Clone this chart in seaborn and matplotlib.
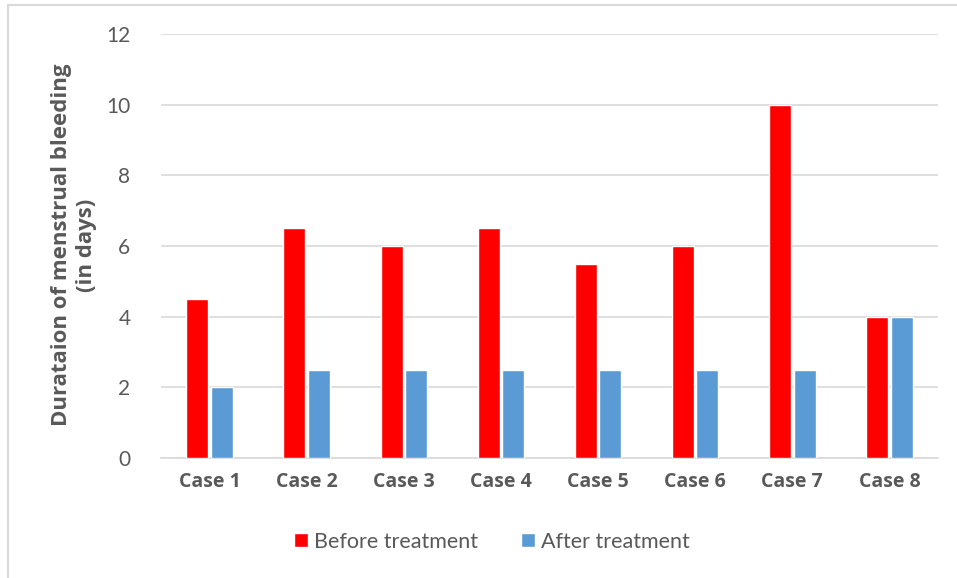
import matplotlib
matplotlib.use("Agg")
import matplotlib.pyplot as plt
import seaborn as sns
import pandas as pd
from matplotlib.patches import Rectangle

cases = ["Case 1", "Case 2", "Case 3", "Case 4", "Case 5", "Case 6", "Case 7", "Case 8"]
before = [4.5, 6.5, 6.0, 6.5, 5.5, 6.0, 10.0, 4.0]
after = [2.0, 2.5, 2.5, 2.5, 2.5, 2.5, 2.5, 4.0]
series_names = ["Before treatment", "After treatment"]
yticks = [0, 2, 4, 6, 8, 10, 12]
ylabel_text = "Durataion of menstrual bleeding\n(in days)"

df = pd.DataFrame({
    "case": cases * 2,
    "days": before + after,
    "series": [series_names[0]] * len(cases) + [series_names[1]] * len(cases),
})

sns.set_theme(style="white")
plt.rcParams["font.family"] = ["Lato", "DejaVu Sans"]
BOLD_FONT = ["Open Sans", "DejaVu Sans"]
TEXT_GRAY = "#595959"

fig = plt.figure(figsize=(9.57, 5.78), dpi=100)
ax = fig.add_axes([161 / 957, 1 - 458 / 578, (938 - 161) / 957, (458 - 34) / 578])

palette = {series_names[0]: "#ff0000", series_names[1]: "#5b9bd5"}
sns.barplot(data=df, x="case", y="days", hue="series", palette=palette,
            width=0.505, gap=0.1, ax=ax, saturation=1, errorbar=None, zorder=3)

ax.set_ylim(0, 12)
ax.set_xlim(-0.5, len(cases) - 0.5)
ax.set_yticks(yticks)
ax.set_yticklabels([str(t) for t in yticks], color=TEXT_GRAY, fontsize=15)
ax.tick_params(axis="y", length=0, pad=22)
ax.tick_params(axis="x", length=0, pad=10)
for lbl in ax.get_xticklabels():
    lbl.set_family(BOLD_FONT)
    lbl.set_fontweight("bold")
    lbl.set_color(TEXT_GRAY)
    lbl.set_fontsize(14)
ax.grid(axis="y", color="#d9d9d9", linewidth=1.2, zorder=0)
ax.set_axisbelow(True)
for s in ["top", "right", "left"]:
    ax.spines[s].set_visible(False)
ax.spines["bottom"].set_color("#d9d9d9")
ax.spines["bottom"].set_linewidth(1.2)
ax.set_xlabel("")
ax.set_ylabel("")

# Two-line bold axis title, centred beside the plot area
fig.text(74 / 957, 1 - 245 / 578, ylabel_text, rotation=90, ha="center",
         va="center", multialignment="center", fontsize=16, fontweight="bold",
         color=TEXT_GRAY, family=BOLD_FONT, linespacing=1.2)

handles, labels = ax.get_legend_handles_labels()
ax.get_legend().remove()
leg = fig.legend(handles, labels, loc="center",
                 bbox_to_anchor=(492 / 957, 1 - 542 / 578),
                 ncol=2, frameon=False, fontsize=15.5, handlelength=0.62,
                 handleheight=0.62, handletextpad=0.3, columnspacing=2.0)
for t in leg.get_texts():
    t.set_color(TEXT_GRAY)

# Light frame around the chart area
fig.patches.append(Rectangle((8 / 957, -0.01), 1, 1.01 - 5 / 578,
                             transform=fig.transFigure, fill=False,
                             edgecolor="#d9d9d9", linewidth=1.5))

fig.savefig("out.png", dpi=100)
